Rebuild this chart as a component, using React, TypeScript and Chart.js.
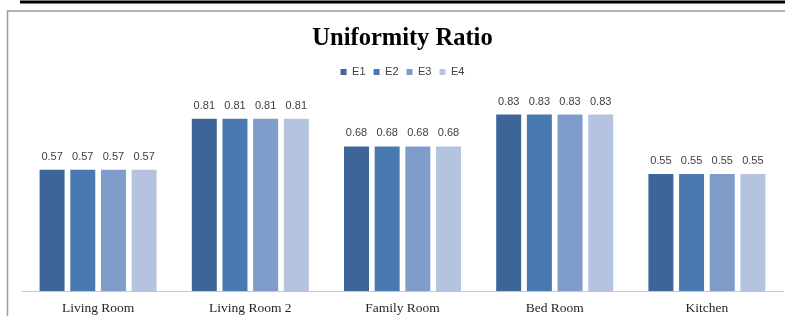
import React, { useEffect, useRef } from "react";
import { Chart, registerables } from "chart.js";

Chart.register(...registerables);

const categories = ["Living Room", "Living Room 2", "Family Room", "Bed Room", "Kitchen"];
const seriesNames = ["E1", "E2", "E3", "E4"];
const e1 = [0.57, 0.81, 0.68, 0.83, 0.55];
const e2 = [0.57, 0.81, 0.68, 0.83, 0.55];
const e3 = [0.57, 0.81, 0.68, 0.83, 0.55];
const e4 = [0.57, 0.81, 0.68, 0.83, 0.55];
const seriesColors = ["#3e6597", "#4a79b1", "#7f9ccb", "#b4c4e0"];

const framePlugin = {
  id: "frame",
  beforeDraw(chart: any) {
    const ctx = chart.ctx;
    ctx.save();
    ctx.fillStyle = "#ffffff";
    ctx.fillRect(0, 0, chart.width, chart.height);
    ctx.fillStyle = "#000000";
    ctx.fillRect(20, 0.5, chart.width - 20, 3);
    ctx.strokeStyle = "#9a9a9a";
    ctx.lineWidth = 1.5;
    ctx.beginPath();
    ctx.moveTo(chart.width, 11);
    ctx.lineTo(7.5, 11);
    ctx.lineTo(7.5, chart.height);
    ctx.stroke();
    ctx.restore();
  },
};

const legendShiftPlugin = {
  id: "legendShift",
  afterLayout(chart: any) {
    const lg = chart.legend;
    if (lg) {
      lg.top += 9;
      lg.bottom += 9;
    }
  },
};

const dataLabelPlugin = {
  id: "dataLabels",
  afterDatasetsDraw(chart: any) {
    const ctx = chart.ctx;
    ctx.save();
    ctx.font = "11px 'Liberation Sans', sans-serif";
    ctx.fillStyle = "#404040";
    ctx.textAlign = "center";
    ctx.textBaseline = "middle";
    chart.data.datasets.forEach((ds: any, i: number) => {
      const meta = chart.getDatasetMeta(i);
      meta.data.forEach((bar: any, j: number) => {
        ctx.fillText(Number(ds.data[j]).toFixed(2), bar.x, bar.y - 13);
      });
    });
    ctx.restore();
  },
};

export default function App() {
  const ref = useRef<HTMLCanvasElement | null>(null);
  useEffect(() => {
    document.body.style.margin = "0";
    const seriesData = [e1, e2, e3, e4];
    const chart = new Chart(ref.current as HTMLCanvasElement, {
      type: "bar",
      data: {
        labels: categories,
        datasets: seriesNames.map((name, i) => ({
          label: name,
          data: seriesData[i],
          backgroundColor: seriesColors[i],
          borderWidth: 0,
          categoryPercentage: 0.806,
          barPercentage: 0.815,
        })),
      },
      options: {
        responsive: false,
        animation: false,
        layout: { padding: { left: 22, right: 2, top: 0, bottom: 0 } },
        plugins: {
          title: {
            display: true,
            text: "Uniformity Ratio",
            color: "#000000",
            font: { family: "'Liberation Serif', serif", size: 24.5, weight: "bold", lineHeight: 1.1 },
            padding: { top: 25.5, bottom: -3 },
          },
          legend: {
            display: true,
            position: "top",
            labels: {
              boxWidth: 6,
              boxHeight: 6,
              padding: 8,
              color: "#404040",
              font: { family: "'Liberation Sans', sans-serif", size: 11 },
            },
          },
          tooltip: { enabled: false },
        },
        scales: {
          x: {
            grid: { display: false, drawTicks: false },
            border: { display: true, color: "#c8c8c8", width: 1 },
            ticks: {
              color: "#262626",
              padding: 9.5,
              font: { family: "'Liberation Serif', serif", size: 13.5, lineHeight: 1.2 },
            },
            afterFit: (scale: any) => {
              scale.height = 25;
            },
          },
          y: { display: false, min: 0, max: 1 },
        },
      },
      plugins: [framePlugin, legendShiftPlugin, dataLabelPlugin],
    });
    return () => chart.destroy();
  }, []);
  return <canvas ref={ref} width={785} height={316} />;
}
